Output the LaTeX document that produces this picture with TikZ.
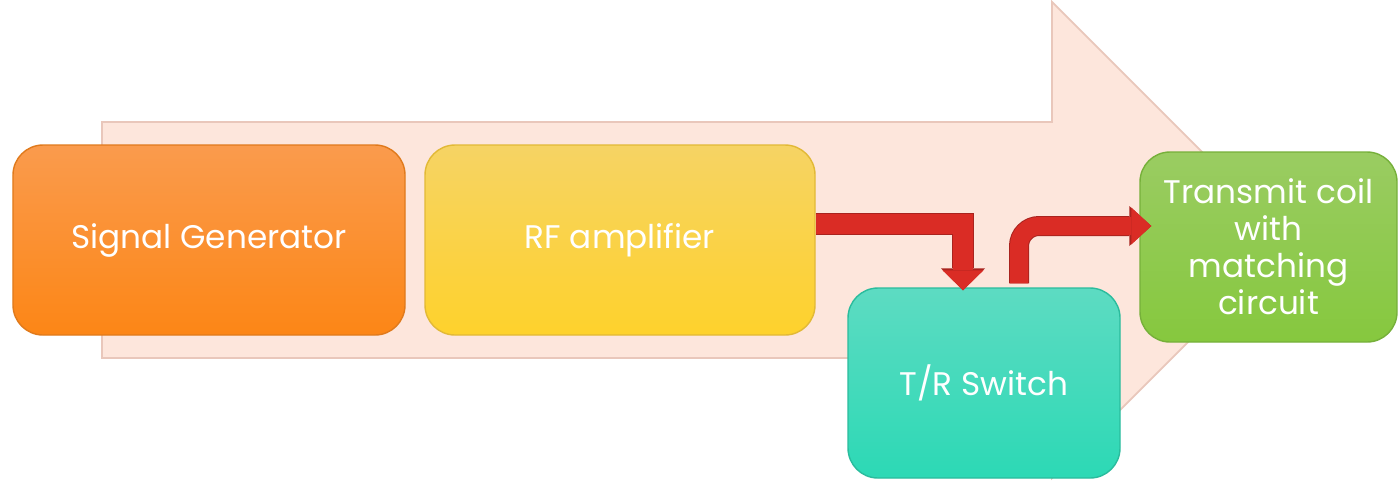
\documentclass[tikz,border=0pt]{standalone}
\usepackage{fontspec}
\setmainfont{Poppins}
\usepackage{tikz}
\usetikzlibrary{arrows.meta}
\definecolor{TXPeach}{HTML}{FDE6DC}
\definecolor{TXPeachLine}{HTML}{E9C7BB}
\definecolor{TXOrangeTop}{HTML}{FA9B4D}
\definecolor{TXOrangeBot}{HTML}{FC8616}
\definecolor{TXOrangeLine}{HTML}{E07A1C}
\definecolor{TXYellowTop}{HTML}{F6D364}
\definecolor{TXYellowBot}{HTML}{FED22C}
\definecolor{TXYellowLine}{HTML}{E2B936}
\definecolor{TXTealTop}{HTML}{5DDBC2}
\definecolor{TXTealBot}{HTML}{2CD9B5}
\definecolor{TXTealLine}{HTML}{2ABC9D}
\definecolor{TXGreenTop}{HTML}{9ACC62}
\definecolor{TXGreenBot}{HTML}{86C83E}
\definecolor{TXGreenLine}{HTML}{76B03A}
\definecolor{TXRed}{HTML}{DA2C25}
\definecolor{TXRedLine}{HTML}{A9231E}

\tikzset{
  stage/.style={rounded corners=.3cm,minimum height=1.9cm,inner sep=0pt,align=center,
    text=white,font=\fontsize{9.3}{10.5}\selectfont,line width=.4pt},
  redarrow/.style={draw=TXRed,line width=#1,
    -{Triangle[width=2*#1+.01cm,length=.2cm,line width=0pt]},
    preaction={draw=TXRedLine,line width=#1+.02cm,
      -{Triangle[width=2*#1+.04cm,length=.22cm,line width=0pt]}}}
}

\begin{document}
\begin{tikzpicture}[x=1cm,y=1cm]
\path[use as bounding box] (0,0) rectangle (13.98,4.81);
\fill[white] (0,0) rectangle (13.98,4.81);
\filldraw[fill=TXPeach,draw=TXPeachLine,line width=.5pt] (1.02,1.23) -- (10.52,1.23) -- (10.52,0.03)
  -- (12.90,2.41) -- (10.52,4.79) -- (10.52,3.59) -- (1.02,3.59) -- cycle;
\node[stage,minimum width=3.92cm,top color=TXOrangeTop,bottom color=TXOrangeBot,draw=TXOrangeLine] (sig) at (2.09,2.41) {Signal Generator};
\node[stage,minimum width=3.90cm,top color=TXYellowTop,bottom color=TXYellowBot,draw=TXYellowLine] (rf) at (6.20,2.41) {RF amplifier};
\node[stage,minimum width=2.72cm,top color=TXTealTop,bottom color=TXTealBot,draw=TXTealLine] (trs) at (9.84,0.98) {T/R Switch};
\node[stage,minimum width=2.57cm,top color=TXGreenTop,bottom color=TXGreenBot,draw=TXGreenLine] (tx) at (12.685,2.34) {Transmit coil\\with\\matching\\circuit};
\draw[redarrow=.2cm] ([yshift=.16cm]rf.east) -| ([xshift=-.21cm,yshift=-.03cm]trs.north);
\draw[redarrow=.18cm,rounded corners=.2cm] ([xshift=.35cm,yshift=.04cm]trs.north) |- ([xshift=.12cm,yshift=.21cm]tx.west);
\end{tikzpicture}
\end{document}
